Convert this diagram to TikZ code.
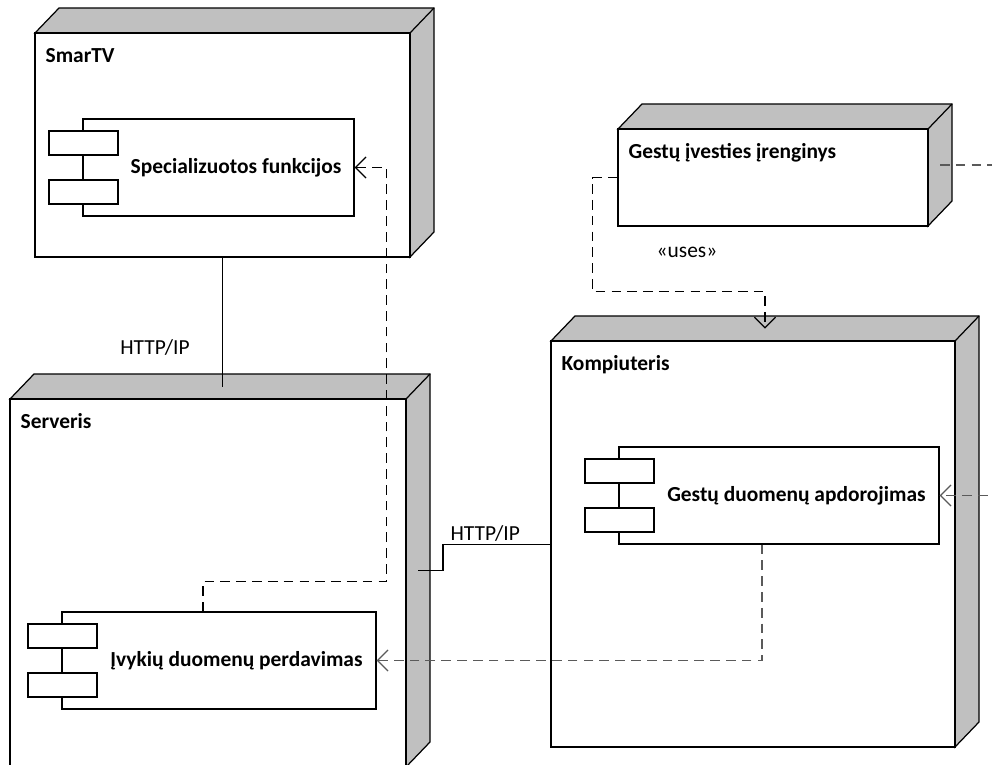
\documentclass[tikz,border=0pt]{standalone}
\usepackage{fontspec}
\setmainfont{Carlito}
\usepackage{tikz}
\usetikzlibrary{arrows.meta,fit}
\definecolor{NodeGray}{HTML}{C0C0C0}
\definecolor{LinkInk}{HTML}{5A5A5A}
\newcommand{\diagfont}{\fontsize{12.2}{14.5}\selectfont}
% 3D deployment node: name, left, top, right, bottom, title
\newcommand{\devnode}[6]{%
  \filldraw[fill=NodeGray] (#2,#3) -- (#2+24,#3-25) -- (#4+24,#3-25) -- (#4+24,#5-25) -- (#4,#5) -- (#4,#3) -- cycle;
  \draw (#4,#3) -- (#4+24,#3-25);
  \node[draw, fill=white, inner sep=0pt, fit={(#2,#3) (#4,#5)}] (#1) {};
  \coordinate (#1-top) at ({(#2+#4)/2+12},#3-12.5);
  \coordinate (#1-side) at (#4+12,{(#3+#5)/2-12.5});
  \node[anchor=base west, inner sep=0pt, font=\diagfont\bfseries] (#1-title) at (#2+10,#3+29) {#6};}
% UML component: name, left, top, right, bottom, text
\newcommand{\umlcomp}[6]{%
  \node[draw, fill=white, inner sep=0pt, fit={(#2,#3) (#4,#5)}] (#1) {};
  \foreach \dy in {12,61}
    {\draw[fill=white] (#2-34,#3+\dy) rectangle (#2+35,#3+\dy+24);}
  \node[font=\diagfont\bfseries] (#1-text) at ({(#2+35+#4)/2},{(#3+#5)/2}) {#6};}

\begin{document}
\begin{tikzpicture}[x=0.02cm, y=-0.02cm, line width=0.7pt, font=\diagfont,
    dep/.style={dash pattern=on 5.5pt off 3.5pt, -{Straight Barb[length=6pt,width=12pt]}}]
  \clip (0,0) rectangle (992,765);
  % nodes
  \devnode{smartv}{35}{33}{410}{257}{SmarTV}
  \devnode{serveris}{10}{399}{406}{767}{Serveris}
  \devnode{ivestis}{618}{129}{928}{226}{Gestų įvesties įrenginys}
  \devnode{kompiuteris}{551}{341}{955}{747}{Kompiuteris}
  % components
  \umlcomp{funkcijos}{83}{119}{354}{216}{Specializuotos funkcijos}
  \umlcomp{perdavimas}{62}{612}{376}{709}{Įvykių duomenų perdavimas}
  \umlcomp{apdorojimas}{619}{447}{939}{544}{Gestų duomenų apdorojimas}
  \coordinate (offright) at (1020,0);
  % communication paths
  \draw (smartv.south) -- (smartv.south |- serveris-top);
  \node (http1) at (155,348) {HTTP/IP};
  \draw (serveris-side) -- ++(25,0) |- (kompiuteris.west |- apdorojimas.south);
  \node[anchor=base west, inner sep=0pt] (http2) at (450,540) {HTTP/IP};
  % dependencies
  \draw[dep] ([shift={(-16,0)}]perdavimas.north) -- ++(0,-30) -| ([shift={(32,0)}]funkcijos.east) -- (funkcijos.east);
  \draw[dep, LinkInk] ([shift={(-17,0)}]apdorojimas.south) |- (perdavimas.east);
  \draw[dep] (ivestis.west) -- ++(-25,0) -- ++(0,114) -| (kompiuteris-top);
  \node (uses) at (687,252) {«uses»};
  \draw[dep, LinkInk] (ivestis-side) -- (ivestis-side -| offright) |- (apdorojimas.east);
\end{tikzpicture}
\end{document}
